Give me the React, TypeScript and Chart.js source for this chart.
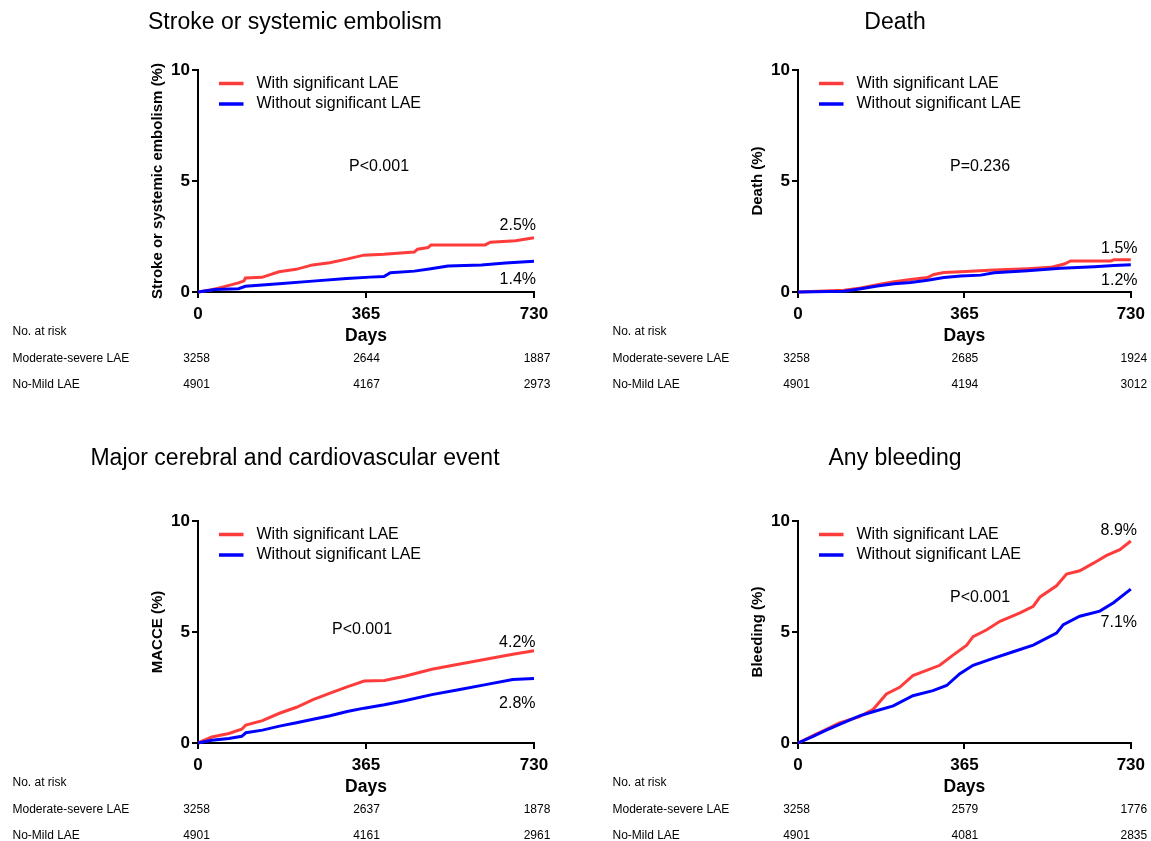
import React, { useEffect, useRef } from 'react';
import { Chart, registerables } from 'chart.js';

Chart.register(...registerables);

const FONT = "'Liberation Sans', Arial, Helvetica, sans-serif";
const RED = '#FF3C3C';
const BLUE = '#0000FF';

const xTicks = [0, 365, 730];
const legendLabels = ['With significant LAE', 'Without significant LAE'];
const riskRowLabels = ['No. at risk', 'Moderate-severe LAE', 'No-Mild LAE'];

// ---- Stroke or systemic embolism ----
const strokeWithDays = [0, 30, 51, 88, 100, 103, 139, 176, 213, 249, 286, 323, 360, 404, 455, 470, 477, 500, 506, 580, 624, 635, 690, 730];
const strokeWithPct = [0, 0.1, 0.21, 0.41, 0.5, 0.63, 0.66, 0.91, 1.02, 1.22, 1.32, 1.48, 1.66, 1.7, 1.78, 1.8, 1.93, 2.0, 2.12, 2.12, 2.12, 2.24, 2.31, 2.44];
const strokeWithoutDays = [0, 37, 88, 103, 176, 249, 323, 374, 404, 418, 470, 506, 543, 616, 668, 730];
const strokeWithoutPct = [0, 0.11, 0.15, 0.26, 0.37, 0.49, 0.61, 0.67, 0.7, 0.87, 0.94, 1.05, 1.17, 1.22, 1.31, 1.39];
const strokeRiskMod = [3258, 2644, 1887];
const strokeRiskNoMild = [4901, 4167, 2973];
const strokeEnd = ['2.5%', '1.4%'];

// ---- Death ----
const deathWithDays = [0, 101, 138, 174, 211, 247, 284, 298, 320, 357, 430, 503, 554, 584, 598, 686, 693, 730];
const deathWithPct = [0, 0.08, 0.18, 0.33, 0.46, 0.56, 0.65, 0.79, 0.88, 0.91, 0.99, 1.05, 1.11, 1.26, 1.4, 1.4, 1.45, 1.45];
const deathWithoutDays = [0, 101, 138, 174, 211, 247, 284, 320, 357, 401, 430, 503, 576, 650, 693, 730];
const deathWithoutPct = [0, 0.03, 0.15, 0.27, 0.37, 0.43, 0.53, 0.65, 0.72, 0.76, 0.87, 0.96, 1.07, 1.14, 1.19, 1.23];
const deathRiskMod = [3258, 2685, 1924];
const deathRiskNoMild = [4901, 4194, 3012];
const deathEnd = ['1.5%', '1.2%'];

// ---- MACCE ----
const macceWithDays = [0, 30, 67, 95, 104, 140, 177, 214, 250, 287, 324, 361, 405, 449, 508, 566, 625, 684, 730];
const macceWithPct = [0, 0.27, 0.43, 0.62, 0.81, 1.01, 1.34, 1.61, 1.95, 2.25, 2.53, 2.79, 2.82, 3.01, 3.32, 3.55, 3.77, 4.0, 4.16];
const macceWithoutDays = [0, 30, 67, 95, 104, 140, 177, 214, 250, 287, 324, 361, 405, 449, 508, 566, 625, 684, 730];
const macceWithoutPct = [0, 0.12, 0.2, 0.3, 0.46, 0.58, 0.76, 0.91, 1.07, 1.23, 1.42, 1.57, 1.72, 1.9, 2.18, 2.4, 2.63, 2.86, 2.91];
const macceRiskMod = [3258, 2637, 1878];
const macceRiskNoMild = [4901, 4161, 2961];
const macceEnd = ['4.2%', '2.8%'];

// ---- Any bleeding ----
const bleedWithDays = [0, 33, 62, 91, 135, 165, 194, 223, 252, 282, 311, 340, 370, 384, 414, 443, 487, 516, 531, 567, 589, 618, 648, 677, 706, 730];
const bleedWithPct = [0, 0.33, 0.61, 0.91, 1.19, 1.52, 2.21, 2.51, 3.04, 3.27, 3.5, 3.96, 4.41, 4.79, 5.1, 5.48, 5.86, 6.16, 6.58, 7.08, 7.61, 7.76, 8.1, 8.45, 8.71, 9.1];
const bleedWithoutDays = [0, 33, 62, 91, 135, 172, 209, 252, 296, 326, 355, 384, 428, 472, 516, 567, 582, 618, 662, 692, 730];
const bleedWithoutPct = [0, 0.3, 0.58, 0.84, 1.22, 1.45, 1.67, 2.13, 2.36, 2.59, 3.12, 3.5, 3.81, 4.11, 4.41, 4.95, 5.33, 5.71, 5.94, 6.32, 6.93];
const bleedRiskMod = [3258, 2579, 1776];
const bleedRiskNoMild = [4901, 4081, 2835];
const bleedEnd = ['8.9%', '7.1%'];

type PanelCfg = {
  left: number; top: number; width: number; height: number;
  plotTop: number; plotBottom: number; titleY: number;
  title: string; yTitle: string; pText: string;
  pOff: [number, number];
  endY: number[]; endX: number;
  withDays: number[]; withPct: number[]; withoutDays: number[]; withoutPct: number[];
  riskMod: number[]; riskNoMild: number[]; endLabels: string[];
};

const panels: PanelCfg[] = [
  {
    left: 0, top: 0, width: 600, height: 420, plotTop: 70, plotBottom: 292, titleY: 23,
    title: 'Stroke or systemic embolism', yTitle: 'Stroke or systemic embolism (%)', pText: 'P<0.001',
    pOff: [181, 97], endY: [155.5, 210], endX: 338,
    withDays: strokeWithDays, withPct: strokeWithPct, withoutDays: strokeWithoutDays, withoutPct: strokeWithoutPct,
    riskMod: strokeRiskMod, riskNoMild: strokeRiskNoMild, endLabels: strokeEnd,
  },
  {
    left: 600, top: 0, width: 551, height: 420, plotTop: 70, plotBottom: 292, titleY: 23,
    title: 'Death', yTitle: 'Death (%)', pText: 'P=0.236',
    pOff: [182, 97], endY: [178.5, 210.5], endX: 339.5,
    withDays: deathWithDays, withPct: deathWithPct, withoutDays: deathWithoutDays, withoutPct: deathWithoutPct,
    riskMod: deathRiskMod, riskNoMild: deathRiskNoMild, endLabels: deathEnd,
  },
  {
    left: 0, top: 420, width: 600, height: 421, plotTop: 101, plotBottom: 323, titleY: 39,
    title: 'Major cerebral and cardiovascular event', yTitle: 'MACCE (%)', pText: 'P<0.001',
    pOff: [164, 108.5], endY: [122, 182.5], endX: 337.5,
    withDays: macceWithDays, withPct: macceWithPct, withoutDays: macceWithoutDays, withoutPct: macceWithoutPct,
    riskMod: macceRiskMod, riskNoMild: macceRiskNoMild, endLabels: macceEnd,
  },
  {
    left: 600, top: 420, width: 551, height: 421, plotTop: 101, plotBottom: 323, titleY: 39,
    title: 'Any bleeding', yTitle: 'Bleeding (%)', pText: 'P<0.001',
    pOff: [182, 76.5], endY: [10, 102], endX: 339,
    withDays: bleedWithDays, withPct: bleedWithPct, withoutDays: bleedWithoutDays, withoutPct: bleedWithoutPct,
    riskMod: bleedRiskMod, riskNoMild: bleedRiskNoMild, endLabels: bleedEnd,
  },
];

const PLOT_LEFT = 198;
const PLOT_RIGHT = 534;
const Y_BOX = 49.5;
const X_BOX = 55;

function KMPanel({ cfg }: { cfg: PanelCfg }) {
  const ref = useRef<HTMLCanvasElement | null>(null);
  useEffect(() => {
    if (!ref.current) return;
    const toPts = (d: number[], v: number[]) => d.map((x, i) => ({ x, y: v[i] }));
    const annot = {
      id: 'kmAnnot',
      afterDraw(chart: any) {
        const { ctx, chartArea: ca, scales } = chart;
        const xs = scales.x;
        ctx.save();
        ctx.fillStyle = '#000';
        // title
        ctx.font = `23px ${FONT}`;
        ctx.textAlign = 'center';
        ctx.textBaseline = 'middle';
        ctx.fillText(cfg.title, ca.left + 97, cfg.titleY);
        // legend
        [RED, BLUE].forEach((c, i) => {
          const y = ca.top + 13.5 + i * 20.5;
          ctx.strokeStyle = c;
          ctx.lineWidth = 3.5;
          ctx.beginPath();
          ctx.moveTo(ca.left + 21, y);
          ctx.lineTo(ca.left + 45.5, y);
          ctx.stroke();
          ctx.font = `16px ${FONT}`;
          ctx.textAlign = 'left';
          ctx.fillStyle = '#000';
          ctx.fillText(legendLabels[i], ca.left + 58.5, y);
        });
        // p value
        ctx.font = `16px ${FONT}`;
        ctx.textAlign = 'center';
        ctx.fillText(cfg.pText, ca.left + cfg.pOff[0], ca.top + cfg.pOff[1]);
        // end labels
        ctx.textAlign = 'right';
        cfg.endLabels.forEach((t, i) => ctx.fillText(t, ca.left + cfg.endX, ca.top + cfg.endY[i]));
        // risk table
        ctx.font = `12px ${FONT}`;
        ctx.textAlign = 'left';
        const rowY = [39.5, 66.2, 92.6];
        riskRowLabels.forEach((t, i) => ctx.fillText(t, 12.5, ca.bottom + rowY[i]));
        ctx.textAlign = 'center';
        const adj = [-1.5, 0.5, 3];
        [cfg.riskMod, cfg.riskNoMild].forEach((row, r) => {
          row.forEach((n, j) => {
            ctx.fillText(String(n), xs.getPixelForValue(xTicks[j]) + adj[j], ca.bottom + rowY[r + 1]);
          });
        });
        ctx.restore();
      },
    };
    const chart = new Chart(ref.current, {
      type: 'line',
      data: {
        datasets: [
          {
            label: legendLabels[0],
            data: toPts(cfg.withDays, cfg.withPct),
            borderColor: RED, backgroundColor: RED, borderWidth: 3,
            pointRadius: 0, tension: 0, clip: false as any, order: 1,
          },
          {
            label: legendLabels[1],
            data: toPts(cfg.withoutDays, cfg.withoutPct),
            borderColor: BLUE, backgroundColor: BLUE, borderWidth: 3,
            pointRadius: 0, tension: 0, clip: false as any, order: 0,
          },
        ],
      },
      options: {
        animation: false,
        responsive: false,
        devicePixelRatio: 1,
        events: [],
        layout: {
          padding: {
            left: PLOT_LEFT - Y_BOX,
            right: cfg.width - PLOT_RIGHT,
            top: cfg.plotTop,
            bottom: cfg.height - cfg.plotBottom - X_BOX,
          },
        },
        plugins: { legend: { display: false }, tooltip: { enabled: false }, title: { display: false } },
        scales: {
          x: {
            type: 'linear', min: 0, max: 730,
            afterBuildTicks: (s: any) => { s.ticks = xTicks.map((v) => ({ value: v })); },
            afterFit: (s: any) => { s.height = X_BOX; },
            grid: { display: true, drawOnChartArea: false, drawTicks: true, tickLength: 6, color: '#000', lineWidth: 2 },
            border: { display: true, color: '#000', width: 2 },
            ticks: { color: '#000', padding: 6, maxRotation: 0, autoSkip: false, font: { family: FONT, size: 17, weight: 'bold' } },
            title: { display: true, text: 'Days', color: '#000', padding: 0, font: { family: FONT, size: 17.5, weight: 'bold' } },
          },
          y: {
            type: 'linear', min: 0, max: 10,
            afterFit: (s: any) => { s.width = Y_BOX; },
            grid: { display: true, drawOnChartArea: false, drawTicks: true, tickLength: 6, color: '#000', lineWidth: 2 },
            border: { display: true, color: '#000', width: 2 },
            ticks: { color: '#000', stepSize: 5, padding: 2, font: { family: FONT, size: 17, weight: 'bold' } },
            title: { display: true, text: cfg.yTitle, color: '#000', padding: 0, font: { family: FONT, size: 15, weight: 'bold' } },
          },
        },
      } as any,
      plugins: [annot],
    });
    return () => chart.destroy();
  }, [cfg]);
  return (
    <canvas
      ref={ref}
      width={cfg.width}
      height={cfg.height}
      style={{ position: 'absolute', left: cfg.left, top: cfg.top, width: cfg.width, height: cfg.height }}
    />
  );
}

export default function App() {
  return (
    <div style={{ position: 'absolute', left: 0, top: 0, width: 1151, height: 841, background: '#fff', overflow: 'hidden' }}>
      {panels.map((p, i) => (
        <KMPanel key={i} cfg={p} />
      ))}
    </div>
  );
}
